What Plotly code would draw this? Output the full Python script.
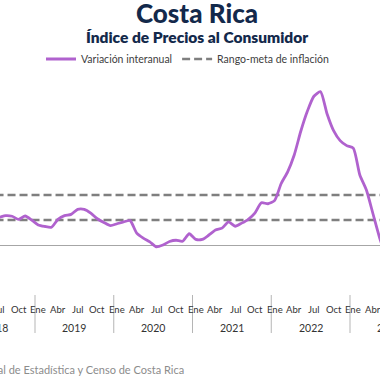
import plotly.graph_objects as go

# ---- data ----
years = [2018, 2019, 2020, 2021, 2022, 2023]
month_names = ["Ene", "Feb", "Mar", "Abr", "May", "Jun", "Jul", "Ago", "Sep", "Oct", "Nov", "Dic"]
shown_months = ["Ene", "Abr", "Jul", "Oct"]

# Variación interanual del IPC (%), mensual desde Ene 2018
inflacion = [
    2.55, 2.40, 2.15, 2.05, 2.10, 2.15, 2.20, 2.35, 2.30, 2.05, 2.32, 2.00,   # 2018
    1.60, 1.48, 1.42, 2.05, 2.35, 2.45, 2.85, 2.85, 2.55, 2.10, 1.80, 1.55,   # 2019
    1.70, 1.85, 1.95, 0.95, 0.55, 0.25, -0.15, 0.00, 0.28, 0.38, 0.30, 0.90,  # 2020
    0.45, 0.45, 0.80, 1.20, 1.35, 1.85, 1.50, 1.75, 2.05, 2.55, 3.38, 3.30,   # 2021
    3.55, 4.90, 5.85, 7.20, 9.10, 10.70, 11.90, 12.27, 10.50, 9.15, 8.35, 7.95,  # 2022
    7.75, 5.60, 4.40, 2.50, 0.60, -1.00,                                      # 2023
]
rango_meta = [2.0, 4.0]

# ---- derived positions ----
n = len(inflacion)
idx = list(range(n))
x_range = [6.167, 64.072]

def to_paper(i):
    return (i - x_range[0]) / (x_range[1] - x_range[0])

plot_top, plot_bottom = 70, 295

def py(p):
    return (plot_bottom - p) / (plot_bottom - plot_top)

PURPLE = "#B062CE"
GRAY = "#7f7f7f"
NAVY = "#13294B"
FONT = "Lato"

fig = go.Figure()

for k, v in enumerate(rango_meta):
    fig.add_trace(go.Scatter(
        x=idx, y=[v] * n, mode="lines",
        line=dict(color=GRAY, width=2.5, dash="8px,4px"),
        name="Rango-meta de inflación", legendgroup="meta",
        showlegend=(k == 0), hoverinfo="skip",
    ))

fig.add_trace(go.Scatter(
    x=idx, y=inflacion, mode="lines",
    line=dict(color=PURPLE, width=2.8, shape="spline", smoothing=0.6),
    name="Variación interanual",
))

annotations = []
shapes = []
for yi, yr in enumerate(years):
    start = yi * 12
    for m in shown_months:
        mi = start + month_names.index(m)
        annotations.append(dict(
            x=to_paper(mi), y=py(309), xref="paper", yref="paper", text=m,
            showarrow=False, xanchor="center", yanchor="middle",
            font=dict(family=FONT, size=9.5, color="#333333"),
        ))
    annotations.append(dict(
        x=to_paper(start + 5.5), y=py(328), xref="paper", yref="paper", text=str(yr),
        showarrow=False, xanchor="center", yanchor="middle",
        font=dict(family=FONT, size=10.5, color="#333333"),
    ))
    if yi > 0:
        shapes.append(dict(
            type="line", xref="x", yref="paper",
            x0=start - 0.5, x1=start - 0.5, y0=0, y1=py(333),
            line=dict(color="#b5b5b5", width=1),
        ))

annotations += [
    dict(x=197 / 380, y=py(13), xref="paper", yref="paper", text="Costa Rica",
         showarrow=False, xanchor="center", yanchor="middle",
         font=dict(family=FONT, size=26, color=NAVY, weight=900)),
    dict(x=197 / 380, y=py(37), xref="paper", yref="paper", text="Índice de Precios al Consumidor",
         showarrow=False, xanchor="center", yanchor="middle",
         font=dict(family=FONT, size=15.5, color=NAVY, weight=800)),
    dict(x=186 / 380, y=py(369), xref="paper", yref="paper",
         text="Fuente: Instituto Nacional de Estadística y Censo de Costa Rica",
         showarrow=False, xanchor="right", yanchor="middle",
         font=dict(family=FONT, size=11, color="#8c8c8c")),
]

fig.update_layout(
    width=380, height=380,
    margin=dict(l=0, r=0, t=plot_top, b=380 - plot_bottom),
    paper_bgcolor="white", plot_bgcolor="white",
    showlegend=True,
    legend=dict(orientation="h", x=188 / 380, xanchor="center", y=py(59), yanchor="middle",
                font=dict(family=FONT, size=10.5, color="#404040"),
                traceorder="reversed", itemwidth=30, bgcolor="rgba(0,0,0,0)"),
    xaxis=dict(range=x_range, showgrid=False, showticklabels=False, zeroline=False,
               showline=False, ticks=""),
    yaxis=dict(range=[-4, 14], showgrid=False, showticklabels=False, ticks="",
               zeroline=True, zerolinecolor="#a6a6a6", zerolinewidth=1, showline=False),
    annotations=annotations,
    shapes=shapes,
)

fig.write_html("out.html", config={"displayModeBar": False},
               post_script="document.body.style.margin='0';")
